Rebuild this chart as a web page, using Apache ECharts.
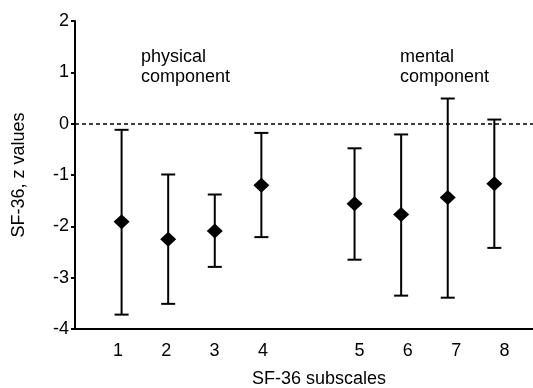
<!DOCTYPE html>
<html>
<head>
<meta charset="utf-8">
<script src="https://cdn.jsdelivr.net/npm/echarts@6/dist/echarts.min.js"></script>
<style>
  html, body { margin: 0; padding: 0; background: #fff; }
  #chart { width: 533px; height: 388px; }
</style>
</head>
<body>
<div id="chart"></div>
<script>
// SF-36 subscales, mean z values with error bars
var xPos = [1, 2, 3, 4, 6, 7, 8, 9];
var xLabels = ['1', '2', '3', '4', '5', '6', '7', '8'];
var means = [-1.91, -2.25, -2.09, -1.20, -1.56, -1.77, -1.44, -1.17];
var upper = [-0.12, -0.99, -1.38, -0.18, -0.48, -0.21, 0.49, 0.08];
var lower = [-3.72, -3.51, -2.79, -2.21, -2.65, -3.35, -3.39, -2.42];
var yTicks = [-4, -3, -2, -1, 0, 1, 2];

(function(){
    var myChart = echarts.init(document.getElementById('chart'));
    var font = '"Liberation Sans", Arial, sans-serif';
    var barData = xPos.map(function(x, i){ return [x, lower[i], upper[i]]; });
    var pointData = xPos.map(function(x, i){ return [x, means[i]]; });

    var option = {
        backgroundColor: '#fff',
        animation: false,
        grid: {
            left: 75,
            right: 0,
            top: 21,
            bottom: 59,
            containLabel: false,
            outerBoundsMode: 'none'
        },
        xAxis: [{
            type: 'value',
            min: 0,
            max: 9.83,
            axisLine: { show: true, onZero: false, lineStyle: { color: '#000', width: 2 } },
            axisTick: { show: false },
            axisLabel: { show: false },
            splitLine: { show: false }
        }, {
            type: 'value',
            position: 'bottom',
            min: 0.11,
            max: 9.59,
            axisLine: { show: false, onZero: false },
            axisTick: { show: false },
            splitLine: { show: false },
            axisLabel: {
                customValues: xPos,
                margin: 13,
                fontSize: 18,
                fontFamily: font,
                color: '#000',
                formatter: function(v){
                    var i = xPos.indexOf(v);
                    return i >= 0 ? xLabels[i] : '';
                }
            },
            name: 'SF-36 subscales',
            nameLocation: 'middle',
            nameGap: 41,
            nameTextStyle: {
                fontSize: 18,
                fontFamily: font,
                color: '#000',
                padding: [0, 0, 0, 30]
            }
        }],
        yAxis: {
            type: 'value',
            min: yTicks[0],
            max: yTicks[yTicks.length - 1],
            interval: 1,
            name: 'SF-36, z values',
            nameLocation: 'middle',
            nameGap: 47,
            nameTextStyle: {
                fontSize: 18,
                fontFamily: font,
                color: '#000'
            },
            axisLine: { show: true, onZero: false, lineStyle: { color: '#000', width: 2 } },
            axisTick: { show: true, length: 4, lineStyle: { color: '#000', width: 2 } },
            axisLabel: {
                margin: 6,
                fontSize: 18,
                fontFamily: font,
                color: '#000'
            },
            splitLine: { show: false }
        },
        graphic: [{
            type: 'text',
            left: 141,
            top: 47,
            style: {
                text: 'physical\ncomponent',
                font: '18px "Liberation Sans", Arial, sans-serif',
                lineHeight: 20,
                fill: '#000'
            }
        }, {
            type: 'text',
            left: 400,
            top: 47,
            style: {
                text: 'mental\ncomponent',
                font: '18px "Liberation Sans", Arial, sans-serif',
                lineHeight: 20,
                fill: '#000'
            }
        }],
        series: [{
            type: 'custom',
            xAxisIndex: 0,
            data: barData,
            renderItem: function(params, api){
                var lo = api.coord([api.value(0), api.value(1)]);
                var hi = api.coord([api.value(0), api.value(2)]);
                var half = 7;
                var style = { stroke: '#000', lineWidth: 2 };
                return {
                    type: 'group',
                    children: [{
                        type: 'line',
                        shape: { x1: lo[0], y1: lo[1], x2: hi[0], y2: hi[1] },
                        style: style
                    }, {
                        type: 'line',
                        shape: { x1: hi[0] - half, y1: hi[1], x2: hi[0] + half, y2: hi[1] },
                        style: style
                    }, {
                        type: 'line',
                        shape: { x1: lo[0] - half, y1: lo[1], x2: lo[0] + half, y2: lo[1] },
                        style: style
                    }]
                };
            },
            z: 2
        }, {
            type: 'scatter',
            xAxisIndex: 0,
            data: pointData,
            symbol: 'diamond',
            symbolSize: [16, 15],
            itemStyle: { color: '#000', opacity: 1 },
            z: 3,
            markLine: {
                silent: true,
                symbol: 'none',
                label: { show: false },
                lineStyle: { color: '#000', width: 1.5, type: [4, 3], opacity: 1 },
                data: [{ yAxis: 0 }]
            }
        }]
    };
    myChart.setOption(option);
    window.addEventListener('resize', function() {
        myChart.resize();
    });
})();
</script>
</body>
</html>
